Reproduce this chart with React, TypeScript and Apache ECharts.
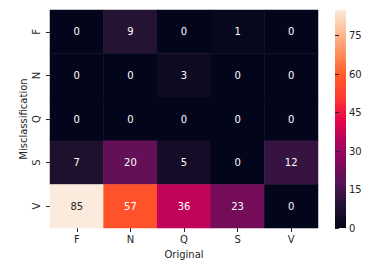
import React, { useEffect, useRef } from "react";
import * as echarts from "echarts";

const originalCats = ["F", "N", "Q", "S", "V"];
const misclassCats = ["F", "N", "Q", "S", "V"];
// rows: Misclassification F..V ; columns: Original F..V
const matrix: number[][] = [
  [0, 9, 0, 1, 0],
  [0, 0, 3, 0, 0],
  [0, 0, 0, 0, 0],
  [7, 20, 5, 0, 12],
  [85, 57, 36, 23, 0],
];
const vMin = 0;
const vMax = 85;
const cbTickStep = 15;
const palette = [
  "#03051A",
  "#221331",
  "#521456",
  "#82085C",
  "#B2045E",
  "#E8064A",
  "#FF3A32",
  "#FF5C26",
  "#FF8E5C",
  "#FFBC96",
  "#FAEBDD",
];

export default function App() {
  const ref = useRef<HTMLDivElement>(null);
  useEffect(() => {
    if (!ref.current) return;
    const chart = echarts.init(ref.current, null, { renderer: "svg" });
    const data: any[] = [];
    matrix.forEach((row, r) =>
      row.forEach((v, c) => {
        data.push({
          value: [c, r, v],
          label: { color: v / vMax > 0.75 ? "#262626" : "#ffffff" },
        });
      })
    );
    const font = "DejaVu Sans";
    const cbLeft = 335;
    const cbTop = 10;
    const cbW = 11;
    const cbH = 218;
    chart.setOption({
      animation: false,
      backgroundColor: "#ffffff",
      textStyle: { fontFamily: font },
      grid: [
        { left: 50, top: 10, width: 268, height: 218 },
        { left: cbLeft, top: cbTop, width: cbW, height: cbH },
      ],
      xAxis: [
        {
          gridIndex: 0,
          type: "category",
          data: originalCats,
          name: "Original",
          nameLocation: "middle",
          nameGap: 21,
          nameMoveOverlap: false,
          nameTextStyle: { color: "#262626", fontSize: 10, fontFamily: font },
          axisLine: { show: false },
          axisTick: { show: true, alignWithLabel: true, length: 4, lineStyle: { color: "#262626" } },
          axisLabel: { color: "#262626", fontSize: 10, margin: 6, fontFamily: font },
          splitLine: { show: false },
        },
        { gridIndex: 1, type: "value", show: false, min: 0, max: 1 },
      ],
      yAxis: [
        {
          gridIndex: 0,
          type: "category",
          data: misclassCats,
          inverse: true,
          name: "Misclassification",
          nameLocation: "middle",
          nameGap: 22,
          nameMoveOverlap: false,
          nameTextStyle: { color: "#262626", fontSize: 10, fontFamily: font },
          axisLine: { show: false },
          axisTick: { show: true, alignWithLabel: true, length: 4, lineStyle: { color: "#262626" } },
          axisLabel: { color: "#262626", fontSize: 10, rotate: 90, margin: 9, fontFamily: font },
          splitLine: { show: false },
        },
        {
          gridIndex: 1,
          type: "value",
          position: "right",
          min: vMin,
          max: vMax,
          interval: cbTickStep,
          axisLine: { show: false },
          axisTick: { show: true, length: 4, lineStyle: { color: "#262626" } },
          axisLabel: {
            color: "#262626",
            fontSize: 10,
            margin: 3,
            fontFamily: font,
            showMaxLabel: false,
          },
          splitLine: { show: false },
        },
      ],
      visualMap: {
        type: "continuous",
        show: false,
        seriesIndex: 0,
        min: vMin,
        max: vMax,
        inRange: { color: palette },
      },
      graphic: [
        {
          type: "rect",
          z: -1,
          shape: { x: cbLeft, y: cbTop, width: cbW, height: cbH },
          style: {
            fill: new echarts.graphic.LinearGradient(
              0,
              1,
              0,
              0,
              palette.map((c, i) => ({ offset: i / (palette.length - 1), color: c }))
            ),
          },
        },
      ],
      series: [
        {
          type: "heatmap",
          xAxisIndex: 0,
          yAxisIndex: 0,
          data,
          label: { show: true, fontSize: 10, fontFamily: font },
          itemStyle: { borderWidth: 0 },
        },
      ],
    });
    return () => chart.dispose();
  }, []);
  return (
    <div
      ref={ref}
      style={{ position: "fixed", left: 0, top: 0, width: 372, height: 272 }}
    />
  );
}
